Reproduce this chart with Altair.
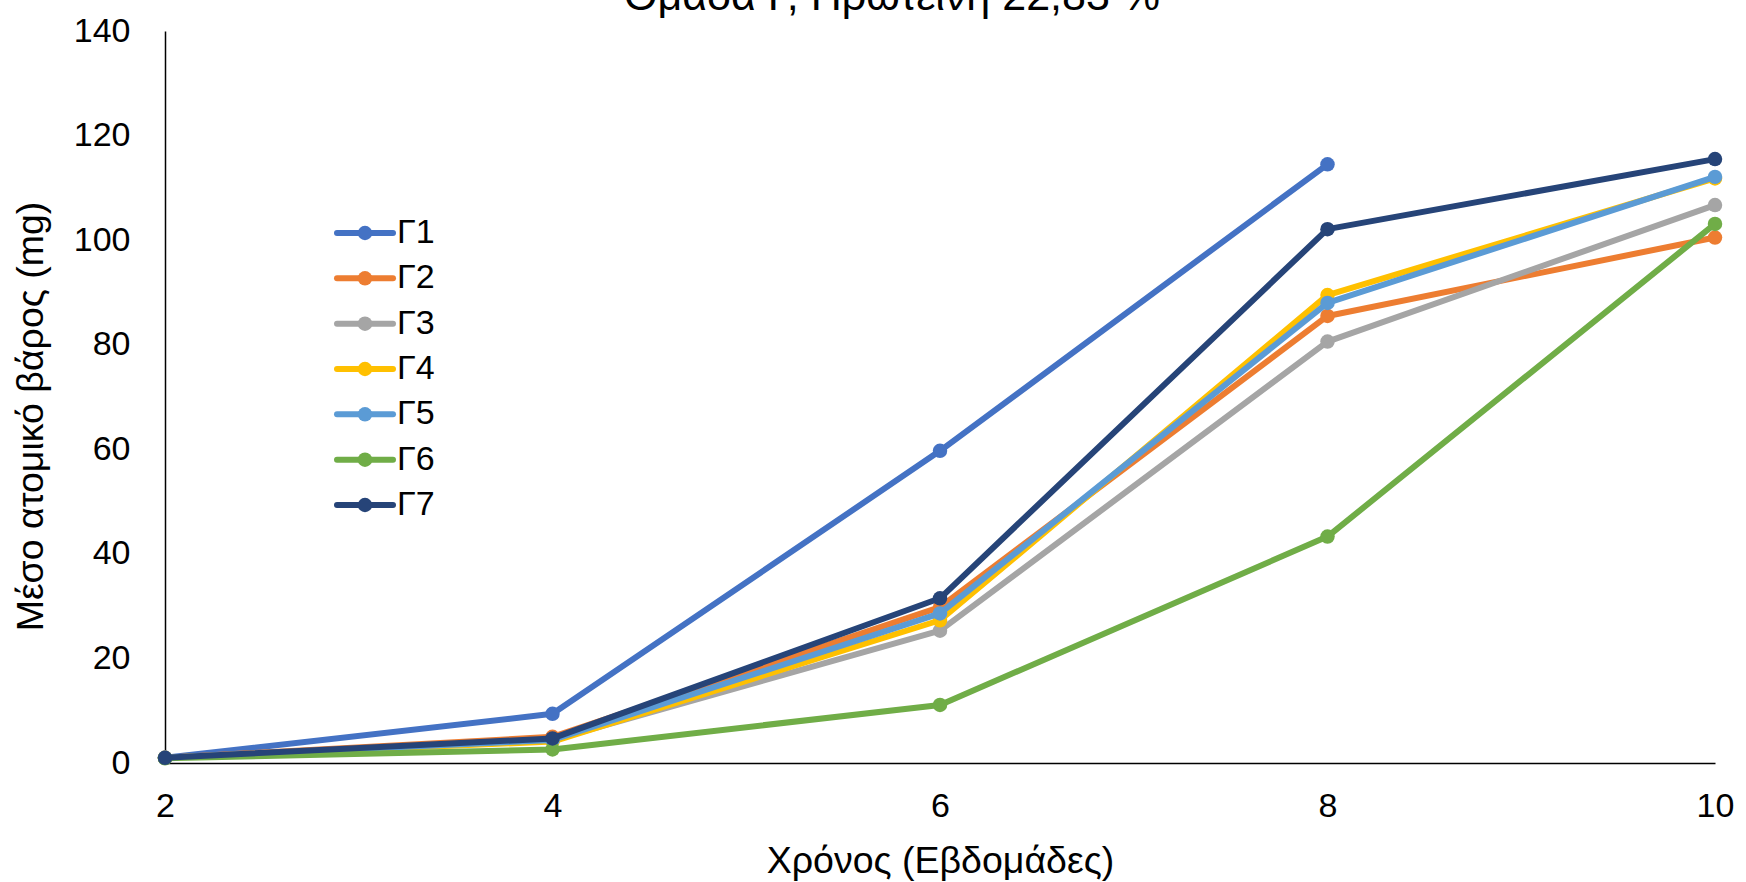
import altair as alt
import pandas as pd

# Sampling weeks and the mean individual weight (mg) of each group
weeks = [2, 4, 6, 8, 10]
series_names = ["Γ1", "Γ2", "Γ3", "Γ4", "Γ5", "Γ6", "Γ7"]
g1 = [1.0, 9.4, 59.7, 114.5, None]
g2 = [1.0, 5.0, 29.8, 85.5, 100.5]
g3 = [1.0, 4.4, 25.3, 80.6, 106.7]
g4 = [1.0, 4.1, 27.3, 89.5, 111.8]
g5 = [1.0, 4.4, 28.6, 88.0, 112.1]
g6 = [0.9, 2.6, 11.1, 43.3, 103.1]
g7 = [1.0, 4.7, 31.5, 102.1, 115.5]
series_values = [g1, g2, g3, g4, g5, g6, g7]
series_colors = ["#4472C4", "#ED7D31", "#A5A5A5", "#FFC000", "#5B9BD5", "#70AD47", "#264478"]
y_ticks = [0, 20, 40, 60, 80, 100, 120, 140]

chart_title = "Ομάδα Γ, Πρωτεΐνη 22,83 %"
x_title = "Χρόνος (Εβδομάδες)"
y_title = "Μέσο ατομικό βάρος (mg)"

FONT = "Liberation Sans"
PLOT_W, PLOT_H = 1550, 732
PAD = {"left": 165, "top": 31, "right": 31, "bottom": 119}
LINE_W = 6
DOT = 210

rows = []
for name, vals in zip(series_names, series_values):
    for w, v in zip(weeks, vals):
        if v is not None:
            rows.append({"week": w, "series": name, "value": v})
df = pd.DataFrame(rows)

color_scale = alt.Scale(domain=series_names, range=series_colors)
color = alt.Color("series:N", scale=color_scale, legend=None)

x_enc = alt.X(
    "week:Q",
    scale=alt.Scale(domain=[2, 10], nice=False, zero=False),
    axis=alt.Axis(
        values=weeks, title=x_title, ticks=False, grid=False,
        labelFontSize=34, labelPadding=26, labelFlush=False, labelOverlap=False,
        titleFontSize=37.5, titleFontWeight="normal", titleBaseline="middle", titleY=98,
    ),
)
y_enc = alt.Y(
    "value:Q",
    scale=alt.Scale(domain=[0, 140], nice=False),
    axis=alt.Axis(
        values=y_ticks, title=y_title, ticks=False, grid=False,
        labelFontSize=34, labelPadding=35, labelOverlap=False,
        titleFontSize=37.5, titleFontWeight="normal", titleBaseline="middle",
        titleX=-134, titleY=385,
    ),
)

# One line + marker layer per group, later groups drawn on top
series_layers = []
for name in series_names:
    base = alt.Chart(df).transform_filter(alt.datum.series == name)
    series_layers.append(
        base.mark_line(strokeWidth=LINE_W, strokeCap="round", strokeJoin="round").encode(
            x=x_enc, y=y_enc, color=color
        )
    )
    series_layers.append(
        base.mark_circle(size=DOT, opacity=1).encode(x=x_enc, y=y_enc, color=color)
    )
main = alt.layer(*series_layers)

# Legend placed inside the plot area, upper left
legend_df = pd.DataFrame({"series": series_names})
legend_y = alt.Y(
    "series:N",
    scale=alt.Scale(type="point", domain=series_names, range=[202, 474], padding=0),
    axis=None,
)
legend_base = alt.Chart(legend_df)
legend = alt.layer(
    legend_base.mark_rule(strokeWidth=LINE_W, strokeCap="round").encode(
        x=alt.value(172), x2=alt.value(228), y=legend_y, color=color
    ),
    legend_base.mark_circle(size=DOT, opacity=1).encode(
        x=alt.value(200), y=legend_y, color=color
    ),
    legend_base.mark_text(
        align="left", baseline="middle", fontSize=34, font=FONT, color="black"
    ).encode(x=alt.value(232), y=legend_y, text="series:N"),
)

title_layer = alt.Chart(pd.DataFrame({"title": [chart_title]})).mark_text(
    align="center", baseline="alphabetic", fontSize=43, font=FONT, color="black"
).encode(x=alt.value(727), y=alt.value(-21), text="title:N")

chart = (
    alt.layer(main, legend, title_layer)
    .resolve_scale(y="independent")
    .properties(
        width=PLOT_W,
        height=PLOT_H,
        autosize=alt.AutoSizeParams(type="none"),
        padding=PAD,
        background="white",
    )
    .configure(font=FONT)
    .configure_view(stroke=None)
    .configure_axis(
        labelFont=FONT, titleFont=FONT, labelColor="black", titleColor="black",
        domainColor="black", domainWidth=1.5,
    )
)

chart.save("out.html", embed_options={"renderer": "svg", "actions": False})
